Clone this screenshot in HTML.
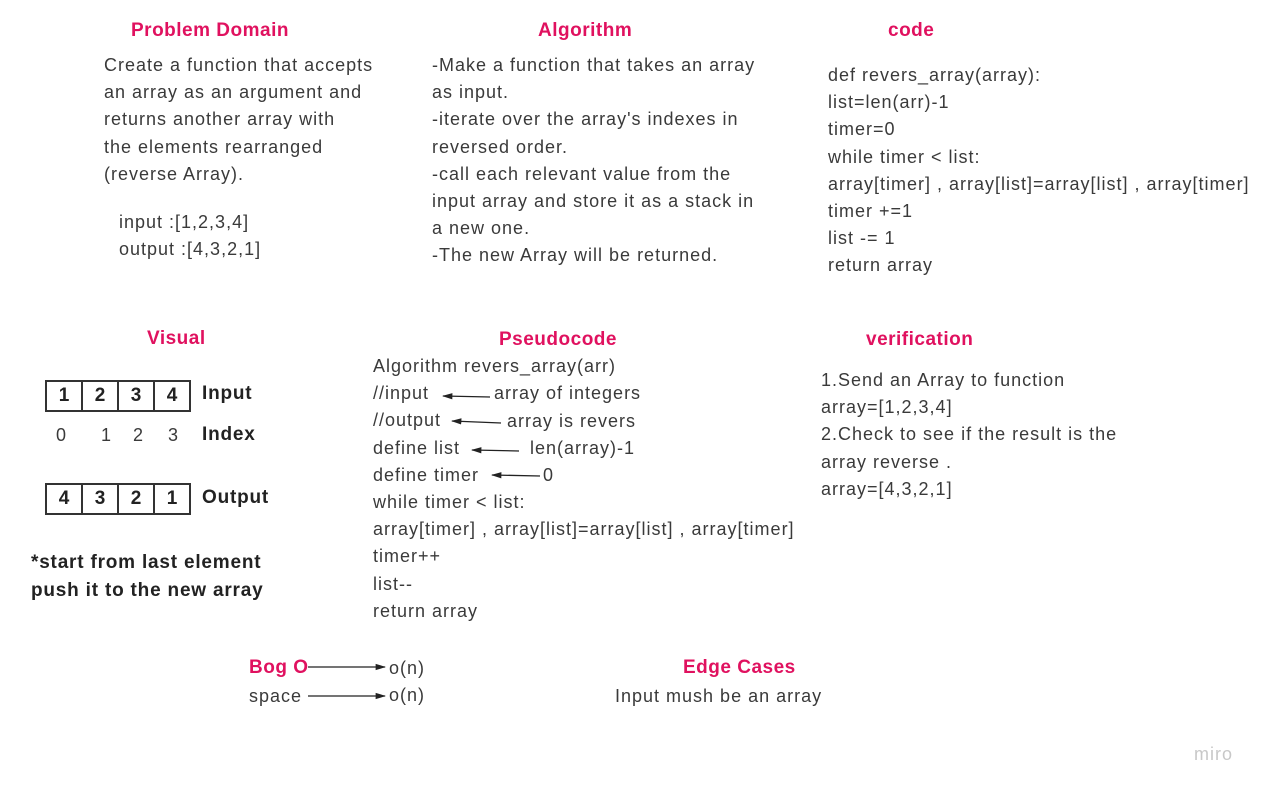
<!DOCTYPE html>
<html><head><meta charset="utf-8"><style>
body{margin:0;width:1264px;height:790px;background:#fff;position:relative;overflow:hidden;font-family:"Liberation Sans",sans-serif;color:#3a3a3a;}
.t{position:absolute;color:#e0115f;font-weight:bold;font-size:19px;line-height:24px;white-space:nowrap;letter-spacing:0.5px}
.p{position:absolute;font-size:18px;line-height:27.2px;white-space:nowrap;letter-spacing:1px}
.b{position:absolute;font-size:19px;font-weight:bold;color:#222;white-space:nowrap;line-height:24px;letter-spacing:0.8px}
.box{position:absolute;display:flex;border:2px solid #333;}
.box div{width:34px;height:28px;border-right:2px solid #333;text-align:center;line-height:28px;font-weight:bold;font-size:19px;color:#222}
.box div:last-child{border-right:none}
svg{position:absolute;left:0;top:0}
</style></head><body>
<div class="t" style="left:131px;top:19px">Problem Domain</div>
<div class="t" style="left:538px;top:19px">Algorithm</div>
<div class="t" style="left:888px;top:19px">code</div>
<div class="t" style="left:147px;top:327px">Visual</div>
<div class="t" style="left:499px;top:328px">Pseudocode</div>
<div class="t" style="left:866px;top:328px">verification</div>
<div class="t" style="left:249px;top:656px">Bog O</div>
<div class="t" style="left:683px;top:656px">Edge Cases</div>

<div class="p" style="left:104px;top:52px">Create a function that accepts<br>an array as an argument and<br>returns another array with<br>the elements rearranged<br>(reverse Array).</div>
<div class="p" style="left:119px;top:209px">input :[1,2,3,4]<br>output :[4,3,2,1]</div>
<div class="p" style="left:432px;top:52px">-Make a function that takes an array<br>as input.<br>-iterate over the array's indexes in<br>reversed order.<br>-call each relevant value from the<br>input array and store it as a stack in<br>a new one.<br>-The new Array will be returned.</div>
<div class="p" style="left:828px;top:62px">def revers_array(array):<br>list=len(arr)-1<br>timer=0<br>while timer &lt; list:<br>array[timer] , array[list]=array[list] , array[timer]<br>timer +=1<br>list -= 1<br>return array</div>

<div class="box" style="left:45px;top:380px"><div>1</div><div>2</div><div>3</div><div>4</div></div>
<div class="b" style="left:202px;top:382px">Input</div>
<div class="p" style="left:56px;top:422px">0</div><div class="p" style="left:101px;top:422px">1</div><div class="p" style="left:133px;top:422px">2</div><div class="p" style="left:168px;top:422px">3</div>
<div class="b" style="left:202px;top:423px">Index</div>
<div class="box" style="left:45px;top:483px"><div>4</div><div>3</div><div>2</div><div>1</div></div>
<div class="b" style="left:202px;top:486px">Output</div>
<div class="b" style="left:31px;top:549px;line-height:28px">*start from last element<br>push it to the new array</div>

<div class="p" style="left:373px;top:353px">Algorithm revers_array(arr)<br>//input<br>//output<br>define list<br>define timer<br>while timer &lt; list:<br>array[timer] , array[list]=array[list] , array[timer]<br>timer++<br>list--<br>return array</div>
<div class="p" style="left:494px;top:380px">array of integers</div>
<div class="p" style="left:507px;top:408px">array is revers</div>
<div class="p" style="left:530px;top:435px">len(array)-1</div>
<div class="p" style="left:543px;top:462px">0</div>

<div class="p" style="left:821px;top:367px">1.Send an Array to function<br>array=[1,2,3,4]<br>2.Check to see if the result is the<br>array reverse .<br>array=[4,3,2,1]</div>

<div class="p" style="left:249px;top:683px">space</div>
<div class="p" style="left:389px;top:655px">o(n)<br>o(n)</div>
<div class="p" style="left:615px;top:683px">Input mush be an array</div>
<div style="position:absolute;left:1194px;top:744px;color:#c8c8c8;font-size:18px;letter-spacing:1px">miro</div>

<svg width="1264" height="790">
<defs><marker id="a" viewBox="0 0 10 10" refX="9" refY="5" markerWidth="8" markerHeight="8" orient="auto-start-reverse"><path d="M0,2L10,5L0,8z" fill="#222"/></marker></defs>
<g stroke="#222" stroke-width="1.3" fill="none">
<line x1="490" y1="397" x2="443" y2="396" marker-end="url(#a)"/>
<line x1="501" y1="423" x2="452" y2="421" marker-end="url(#a)"/>
<line x1="519" y1="451" x2="472" y2="450" marker-end="url(#a)"/>
<line x1="540" y1="476" x2="492" y2="475" marker-end="url(#a)"/>
<line x1="308" y1="667" x2="385" y2="667" marker-end="url(#a)"/>
<line x1="308" y1="696" x2="385" y2="696" marker-end="url(#a)"/>
</g></svg>
</body></html>
